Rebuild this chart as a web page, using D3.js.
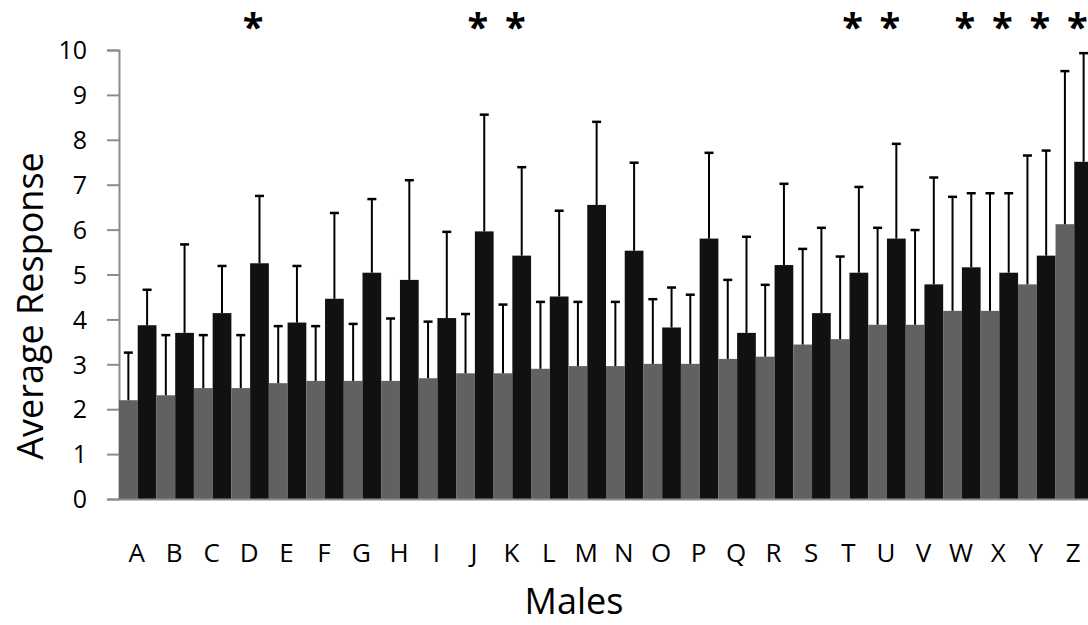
<!DOCTYPE html>
<head>
    <meta charset="utf-8">
    <script src="https://d3js.org/d3.v7.min.js"></script>
    <style>
        body { margin:0; background:#fff; }
        svg { display:block; }
        text { font-family: 'Open Sans', sans-serif; fill:#000; }
        .axis path, .axis line { stroke:#8c8c8c; stroke-width:2; }
        .axis text { font-size:25px; }
        .bar--first { fill:#616161; }
        .bar--second { fill:#111111; }
        .err { stroke:#000; stroke-width:2; }
        .err-cap { stroke:#000; stroke-width:2.5; }
        .star { font-size:38px; font-weight:bold; }
        .axis-title { font-size:36px; }
    </style>
</head>

<body>
  <script>
    const categories = ['A','B','C','D','E','F','G','H','I','J','K','L','M',
                        'N','O','P','Q','R','S','T','U','V','W','X','Y','Z'];

    // grey bars (left of each pair) and their upper error
    const greyMeans = [2.20, 2.31, 2.47, 2.47, 2.58, 2.63, 2.63, 2.63, 2.69, 2.80, 2.80, 2.90, 2.96,
                       2.96, 3.01, 3.01, 3.12, 3.17, 3.44, 3.56, 3.88, 3.88, 4.19, 4.19, 4.78, 6.12];
    const greyErrors = [1.06, 1.34, 1.18, 1.18, 1.27, 1.22, 1.27, 1.39, 1.26, 1.32, 1.53, 1.49, 1.43,
                        1.43, 1.44, 1.54, 1.76, 1.60, 2.13, 1.84, 2.16, 2.11, 2.54, 2.62, 2.87, 3.41];

    // black bars (right of each pair) and their upper error
    const blackMeans = [3.87, 3.70, 4.14, 5.25, 3.93, 4.46, 5.04, 4.88, 4.03, 5.96, 5.42, 4.51, 6.55,
                        5.53, 3.82, 5.80, 3.70, 5.21, 4.14, 5.04, 5.80, 4.78, 5.16, 5.04, 5.42, 7.51];
    const blackErrors = [0.79, 1.97, 1.05, 1.50, 1.26, 1.91, 1.64, 2.22, 1.92, 2.60, 1.97, 1.91, 1.85,
                         1.96, 0.89, 1.91, 2.14, 1.81, 1.90, 1.91, 2.11, 2.38, 1.65, 1.77, 2.34, 2.42];

    const significant = ['D','J','K','T','U','W','X','Y','Z'];
    const yTicks = [0,1,2,3,4,5,6,7,8,9,10];

    const width = 1088;
    const height = 625;

    const xScale = d3.scaleBand()
        .domain(categories)
        .range([119, 1093])
        .padding(0);

    const subScale = d3.scaleBand()
        .domain(['grey', 'black'])
        .range([0, xScale.bandwidth()])
        .padding(0);

    const yScale = d3.scaleLinear()
        .domain([0, 10])
        .range([499, 50]);

    const svg = d3.select('body').append('svg')
        .attr('width', width)
        .attr('height', height);

    const rows = categories.map((c, i) => ({
        cat: c,
        values: [
            {key: 'grey', mean: greyMeans[i], err: greyErrors[i]},
            {key: 'black', mean: blackMeans[i], err: blackErrors[i]}
        ]
    }));

    svg.call(addYAxis);
    svg.call(addBars);
    svg.call(addXAxis);
    svg.call(addStars);
    svg.call(addTitles);

    function addYAxis(selection) {
        const yAxis = selection.append('g')
            .attr('class', 'axis y')
            .attr('transform', `translate(${xScale.range()[0]},0)`)
            .call(d3.axisLeft(yScale)
                .tickValues(yTicks)
                .tickSize(12)
                .tickPadding(20)
                .tickFormat(d3.format('d')));
        yAxis.selectAll('text').attr('dy', '0.35em');
    }

    function addXAxis(selection) {
        const xAxis = selection.append('g')
            .attr('class', 'axis x')
            .attr('transform', `translate(0,${yScale(0)})`)
            .call(d3.axisBottom(xScale).tickSize(0).tickSizeOuter(0));
        xAxis.selectAll('text')
            .attr('y', 63)
            .attr('dy', 0)
            .attr('dx', -1)
            .style('font-size', '26px');
    }

    function addBars(selection) {
        const groups = selection.append('g')
            .attr('class', 'bars')
            .selectAll('g')
            .data(rows)
            .enter().append('g')
            .attr('transform', d => `translate(${xScale(d.cat)},0)`);

        groups.selectAll('rect')
            .data(d => d.values)
            .enter().append('rect')
            .attr('class', d => d.key === 'grey' ? 'bar bar--first' : 'bar bar--second')
            .attr('x', d => subScale(d.key))
            .attr('width', subScale.bandwidth())
            .attr('y', d => yScale(d.mean))
            .attr('height', d => yScale(0) - yScale(d.mean));

        const errs = groups.selectAll('g.errbar')
            .data(d => d.values)
            .enter().append('g')
            .attr('class', 'errbar')
            .attr('transform', d => `translate(${subScale(d.key) + subScale.bandwidth() / 2},0)`);

        errs.append('line')
            .attr('class', 'err')
            .attr('x1', 0).attr('x2', 0)
            .attr('y1', d => yScale(d.mean))
            .attr('y2', d => yScale(d.mean + d.err));

        errs.append('line')
            .attr('class', 'err-cap')
            .attr('x1', -4.5).attr('x2', 4.5)
            .attr('y1', d => yScale(d.mean + d.err))
            .attr('y2', d => yScale(d.mean + d.err));
    }

    function addStars(selection) {
        selection.append('g')
            .selectAll('text')
            .data(significant)
            .enter().append('text')
            .attr('class', 'star')
            .attr('x', d => xScale(d) + xScale.bandwidth() / 2 + 3)
            .attr('y', 41)
            .attr('text-anchor', 'middle')
            .text('*');
    }

    function addTitles(selection) {
        selection.append('text')
            .attr('class', 'axis-title')
            .attr('transform', 'translate(43,306) rotate(-90)')
            .attr('text-anchor', 'middle')
            .text('Average Response');

        selection.append('text')
            .attr('class', 'axis-title')
            .attr('x', 574)
            .attr('y', 614)
            .attr('text-anchor', 'middle')
            .text('Males');
    }
  </script>
</body>
